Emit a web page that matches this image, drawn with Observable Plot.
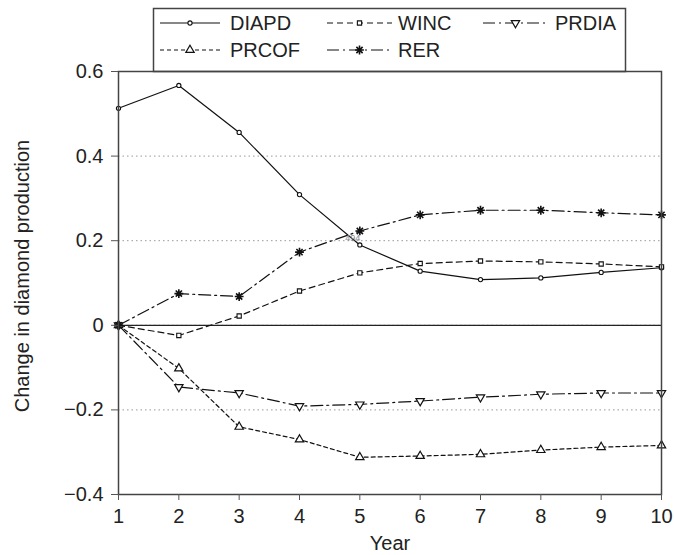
<!DOCTYPE html>
<html><head><meta charset="utf-8">
<script src="https://cdn.jsdelivr.net/npm/d3@7"></script>
<script src="https://cdn.jsdelivr.net/npm/@observablehq/plot@0.6"></script>
<style>body{margin:0;background:#fff;}</style>
</head><body><div id="chart"></div>
<script>
const years = [1,2,3,4,5,6,7,8,9,10];
const DIAPD = [0.513,0.567,0.456,0.309,0.190,0.128,0.108,0.112,0.125,0.136];
const WINC  = [0,-0.024,0.022,0.081,0.124,0.146,0.152,0.150,0.145,0.138];
const PRDIA = [0,-0.146,-0.160,-0.191,-0.187,-0.179,-0.170,-0.163,-0.160,-0.160];
const PRCOF = [0,-0.102,-0.240,-0.270,-0.312,-0.309,-0.305,-0.295,-0.288,-0.284];
const RER   = [0,0.075,0.068,0.173,0.223,0.261,0.272,0.272,0.266,0.261];
const seriesNames = ["DIAPD","WINC","PRDIA","PRCOF","RER"];
const yTicks = [-0.4,-0.2,0,0.2,0.4,0.6];
const gridTicks = [0.4,0.2,0,-0.2];
const xTicks = years;
const yLabel = "Change in diamond production";
const xLabel = "Year";
const annotation = [{x:5, y:0.2, text:"494"}];

const FONT = "'Liberation Sans', Arial, Helvetica, sans-serif";

const triangleDown = {
  draw(context, size) {
    const s3 = Math.sqrt(3);
    const y = -Math.sqrt(size / (s3 * 3));
    context.moveTo(0, -y * 2);
    context.lineTo(-s3 * y, y);
    context.lineTo(s3 * y, y);
    context.closePath();
  }
};
const star8 = {
  draw(context, size) {
    const r = Math.sqrt(size / Math.PI) ;
    for (let k = 0; k < 4; k++) {
      const a = k * Math.PI / 4;
      const c = Math.cos(a) * r, s = Math.sin(a) * r;
      context.moveTo(-c, -s);
      context.lineTo(c, s);
    }
  }
};

const styles = {
  DIAPD: {dash: null, symbol: d3.symbolCircle, r: 2.1, fill: "white", sw: 1.1},
  WINC:  {dash: "6,4", symbol: d3.symbolSquare, r: 2.4, fill: "white", sw: 1.1},
  PRDIA: {dash: "12,4,2,4", symbol: triangleDown, r: 3.1, fill: "white", sw: 1.2},
  PRCOF: {dash: "4,3", symbol: d3.symbolTriangle, r: 3.1, fill: "white", sw: 1.2},
  RER:   {dash: "12,4,2,4", symbol: star8, r: 4.4, fill: "none", sw: 1.6}
};
const values = {DIAPD, WINC, PRDIA, PRCOF, RER};
const table = seriesNames.map(name => years.map((x, i) => ({series: name, x, y: values[name][i]})));

const fmt = d => d === 0 ? "0" : d.toFixed(1).replace("-", "\u2212");

const lineMarks = table.map(rows => {
  const st = styles[rows[0].series];
  return Plot.line(rows, {x: "x", y: "y", stroke: "#111", strokeWidth: 1.2, strokeDasharray: st.dash || undefined});
});
const dotMarks = table.map(rows => {
  const st = styles[rows[0].series];
  return Plot.dot(rows, {x: "x", y: "y", symbol: st.symbol, r: st.r, stroke: "#111", fill: st.fill, strokeWidth: st.sw});
});

const chart = Plot.plot({
  width: 674, height: 555,
  marginLeft: 118, marginRight: 13, marginTop: 71, marginBottom: 61,
  x: {domain: [1, 10]},
  y: {domain: [-0.4, 0.6]},
  style: {fontFamily: FONT, fontSize: "20px", color: "#222", background: "#fff"},
  marks: [
    Plot.gridY(gridTicks, {stroke: "#999", strokeOpacity: 1, strokeDasharray: "1.5,3"}),
    Plot.ruleY([0], {stroke: "#222", strokeWidth: 1.2}),
    ...lineMarks,
    ...dotMarks,
    Plot.text(annotation, {x: "x", y: "y", text: "text", dx: -7, dy: -3, fontSize: 9, fill: "#888"}),
    Plot.frame({stroke: "#444", strokeWidth: 1.5}),
    Plot.axisY(yTicks, {tickSize: 7, tickPadding: 8, tickFormat: fmt, label: null, stroke: "#555"}),
    Plot.axisX(xTicks, {tickSize: 6, tickPadding: 8, tickFormat: d => String(d), label: null, stroke: "#555"}),
    Plot.text([yLabel], {frameAnchor: "left", textAnchor: "middle", lineAnchor: "middle", dx: -96, dy: -7, rotate: -90}),
    Plot.text([xLabel], {frameAnchor: "bottom", textAnchor: "middle", lineAnchor: "middle", dy: 49})
  ]
});
document.getElementById("chart").appendChild(chart);

// Legend (drawn in the top margin, behind the frame)
const svg = d3.select(chart);
const lg = svg.insert("g", ":first-child").attr("font-family", FONT).attr("font-size", 20).attr("fill", "#222").attr("text-anchor", "start");
lg.append("rect").attr("x", 153.5).attr("y", 8.5).attr("width", 472).attr("height", 63).attr("fill", "white").attr("stroke", "#444").attr("stroke-width", 1.5);
const legendPos = [
  {name: "DIAPD", x0: 160, x1: 220, tx: 230, y: 23},
  {name: "WINC",  x0: 327, x1: 392, tx: 398, y: 23},
  {name: "PRDIA", x0: 483, x1: 548, tx: 555, y: 23},
  {name: "PRCOF", x0: 160, x1: 220, tx: 230, y: 50},
  {name: "RER",   x0: 327, x1: 392, tx: 398, y: 50}
];
legendPos.forEach(p => {
  const st = styles[p.name];
  lg.append("line").attr("x1", p.x0).attr("x2", p.x1).attr("y1", p.y).attr("y2", p.y)
    .attr("stroke", "#111").attr("stroke-width", 1.2).attr("stroke-dasharray", st.dash);
  lg.append("path").attr("transform", `translate(${(p.x0 + p.x1) / 2},${p.y})`)
    .attr("d", d3.symbol(st.symbol, Math.PI * st.r * st.r)())
    .attr("fill", st.fill).attr("stroke", "#111").attr("stroke-width", st.sw);
  lg.append("text").attr("x", p.tx).attr("y", p.y).attr("dy", "0.36em").attr("text-anchor", "start").text(p.name);
});
</script>
</body></html>
